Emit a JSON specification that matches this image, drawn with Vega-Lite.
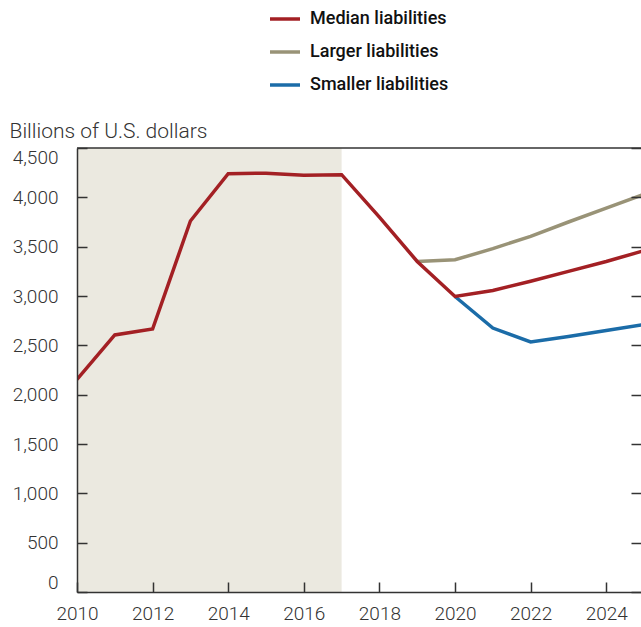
{
  "$schema": "https://vega.github.io/schema/vega-lite/v6.json",
  "width": 564,
  "height": 444,
  "autosize": "none",
  "padding": {"left": 77, "top": 148, "right": 0, "bottom": 35},
  "config": {
    "view": {"stroke": null},
    "font": "Roboto",
    "axis": {
      "grid": false,
      "zindex": 1,
      "domainColor": "#333333",
      "domainWidth": 1.5,
      "tickColor": "#333333",
      "tickWidth": 1.5,
      "tickSize": -10,
      "labelFont": "Roboto",
      "labelFontSize": 19,
      "labelFontWeight": 300,
      "labelColor": "#333333",
      "title": null
    }
  },
  "datasets": {
    "series": [
      {"year": 2010, "value": 2155, "series": "Median liabilities"},
      {"year": 2011, "value": 2605, "series": "Median liabilities"},
      {"year": 2012, "value": 2665, "series": "Median liabilities"},
      {"year": 2013, "value": 3760, "series": "Median liabilities"},
      {"year": 2014, "value": 4240, "series": "Median liabilities"},
      {"year": 2015, "value": 4245, "series": "Median liabilities"},
      {"year": 2016, "value": 4225, "series": "Median liabilities"},
      {"year": 2017, "value": 4230, "series": "Median liabilities"},
      {"year": 2018, "value": 3800, "series": "Median liabilities"},
      {"year": 2019, "value": 3350, "series": "Median liabilities"},
      {"year": 2020, "value": 2995, "series": "Median liabilities"},
      {"year": 2021, "value": 3055, "series": "Median liabilities"},
      {"year": 2022, "value": 3150, "series": "Median liabilities"},
      {"year": 2023, "value": 3250, "series": "Median liabilities"},
      {"year": 2024, "value": 3350, "series": "Median liabilities"},
      {"year": 2025, "value": 3460, "series": "Median liabilities"},
      {"year": 2019, "value": 3350, "series": "Larger liabilities"},
      {"year": 2020, "value": 3367, "series": "Larger liabilities"},
      {"year": 2021, "value": 3480, "series": "Larger liabilities"},
      {"year": 2022, "value": 3605, "series": "Larger liabilities"},
      {"year": 2023, "value": 3750, "series": "Larger liabilities"},
      {"year": 2024, "value": 3890, "series": "Larger liabilities"},
      {"year": 2025, "value": 4030, "series": "Larger liabilities"},
      {"year": 2020, "value": 2995, "series": "Smaller liabilities"},
      {"year": 2021, "value": 2675, "series": "Smaller liabilities"},
      {"year": 2022, "value": 2535, "series": "Smaller liabilities"},
      {"year": 2023, "value": 2590, "series": "Smaller liabilities"},
      {"year": 2024, "value": 2650, "series": "Smaller liabilities"},
      {"year": 2025, "value": 2710, "series": "Smaller liabilities"}
    ],
    "shade": [{"start": 2010, "end": 2017}]
  },
  "resolve": {"axis": {"y": "independent"}},
  "layer": [
    {
      "data": {"name": "shade"},
      "mark": {"type": "rect", "color": "#ebe9e0", "zindex": -1},
      "encoding": {
        "x": {
          "field": "start", "type": "quantitative",
          "scale": {"domain": [2010, 2024.92], "nice": false, "zero": false},
          "axis": {"values": [2010, 2012, 2014, 2016, 2018, 2020, 2022, 2024], "format": "d", "labelPadding": 22, "labelFlush": false, "zindex": 2}
        },
        "x2": {"field": "end"}
      }
    },
    {
      "data": {"name": "series"},
      "transform": [{"filter": "datum.series !== 'Median liabilities'"}],
      "mark": {"type": "line", "strokeWidth": 3.5, "clip": true},
      "encoding": {
        "x": {"field": "year", "type": "quantitative"},
        "y": {
          "field": "value", "type": "quantitative",
          "scale": {"domain": [0, 4500], "nice": false},
          "axis": {
            "orient": "left", "zindex": 2,
            "values": [0, 500, 1000, 1500, 2000, 2500, 3000, 3500, 4000, 4500],
            "format": ",d", "labelFlush": true, "labelPadding": 29,
            "title": "Billions of U.S. dollars",
            "titleAngle": 0, "titleX": -68, "titleY": -11,
            "titleAlign": "left", "titleBaseline": "alphabetic",
            "titleFont": "Roboto", "titleFontSize": 21, "titleFontWeight": 300, "titleColor": "#333333"
          }
        },
        "color": {
          "field": "series", "type": "nominal",
          "scale": {
            "domain": ["Median liabilities", "Larger liabilities", "Smaller liabilities"],
            "range": ["#a32024", "#999377", "#1b6ca8"]
          },
          "legend": {
            "orient": "none", "legendX": 191, "legendY": -146,
            "title": null, "padding": 0,
            "symbolType": "stroke", "symbolSize": 900, "symbolStrokeWidth": 3.5,
            "labelFont": "Roboto", "labelFontSize": 18, "labelFontWeight": 500,
            "labelColor": "#111111", "labelOffset": 8, "rowPadding": 7
          }
        }
      }
    },
    {
      "data": {"name": "series"},
      "transform": [{"filter": "datum.series === 'Median liabilities'"}],
      "mark": {"type": "line", "strokeWidth": 3.5, "clip": true},
      "encoding": {
        "x": {"field": "year", "type": "quantitative"},
        "y": {"field": "value", "type": "quantitative", "axis": null},
        "color": {"field": "series", "type": "nominal"}
      }
    },
    {
      "data": {"name": "shade"},
      "mark": {"type": "rule", "color": "#333333", "strokeWidth": 1.5},
      "encoding": {
        "y": {
          "datum": 4500, "type": "quantitative",
          "axis": {
            "orient": "right", "zindex": 2,
            "values": [0, 500, 1000, 1500, 2000, 2500, 3000, 3500, 4000, 4500],
            "labels": false, "domain": false
          }
        }
      }
    }
  ]
}
